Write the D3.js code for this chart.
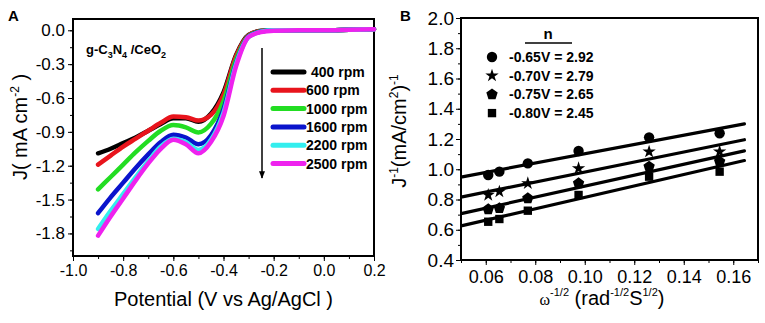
<!DOCTYPE html>
<html>
<head>
<meta charset="utf-8">
<script src="https://cdn.jsdelivr.net/npm/d3@7"></script>
<style>
  body { margin: 0; background: #fff; }
  svg { font-family: "Liberation Sans", Arial, sans-serif; }
</style>
</head>
<body>
<svg id="chart" width="765" height="323"></svg>
<script>
// ---- panel A data: LSV curves at different rotation rates
var potential = [-0.9, -0.85, -0.8, -0.75, -0.7, -0.65, -0.6, -0.55, -0.5, -0.45, -0.4, -0.35, -0.3, -0.25, -0.2, -0.1, 0.0, 0.1, 0.2];
var rpmLabels = ["400 rpm", "600 rpm", "1000 rpm", "1600 rpm", "2200 rpm", "2500 rpm"];
var rpmColors = ["#000000", "#e8141c", "#22dd22", "#0a14cc", "#33eeee", "#ee22ee"];
var j400  = [-1.09, -1.05, -1.0, -0.95, -0.89, -0.83, -0.78, -0.78, -0.81, -0.74, -0.55, -0.22, -0.04, -0.005, 0.0, 0.0, 0.0, 0.005, 0.01];
var j600  = [-1.19, -1.11, -1.03, -0.96, -0.89, -0.82, -0.765, -0.77, -0.80, -0.75, -0.57, -0.23, -0.045, -0.006, 0.0, 0.0, 0.0, 0.005, 0.01];
var j1000 = [-1.41, -1.30, -1.19, -1.08, -0.98, -0.89, -0.84, -0.86, -0.905, -0.83, -0.63, -0.26, -0.05, -0.008, 0.0, 0.0, 0.0, 0.005, 0.01];
var j1600 = [-1.62, -1.48, -1.35, -1.22, -1.10, -0.99, -0.925, -0.95, -1.01, -0.93, -0.70, -0.29, -0.055, -0.01, 0.0, 0.0, 0.0, 0.005, 0.01];
var j2200 = [-1.76, -1.60, -1.45, -1.30, -1.16, -1.03, -0.96, -0.99, -1.06, -0.97, -0.73, -0.30, -0.06, -0.012, 0.0, 0.0, 0.0, 0.005, 0.01];
var j2500 = [-1.82, -1.65, -1.49, -1.33, -1.18, -1.05, -0.97, -1.01, -1.09, -0.99, -0.76, -0.32, -0.06, -0.015, -0.004, 0.0, 0.0, 0.005, 0.01];

// ---- panel B data: Koutecky-Levich plot
var omegaInv = [0.061, 0.0655, 0.077, 0.0975, 0.126, 0.1545];
var kLabels = ["-0.65V = 2.92", "-0.70V = 2.79", "-0.75V = 2.65", "-0.80V = 2.45"];
var kInv065 = [0.962, 0.984, 1.039, 1.121, 1.211, 1.238];
var kInv070 = [0.830, 0.852, 0.907, 1.006, 1.116, 1.116];
var kInv075 = [0.735, 0.742, 0.808, 0.907, 1.017, 1.050];
var kInv080 = [0.653, 0.671, 0.726, 0.830, 0.951, 0.984];

var svg = d3.select("#chart");

// ================= Panel A =================
var A = {left: 73, right: 374, top: 19, bottom: 256};
var xA = d3.scaleLinear().domain([-1.0, 0.2]).range([A.left, A.right]);
var yA = d3.scaleLinear().domain([-2.0, 0.1]).range([A.bottom, A.top]);

var gA = svg.append("g");

// minor ticks
gA.append("g")
  .attr("transform", "translate(0," + A.bottom + ")")
  .call(d3.axisBottom(xA).tickValues(d3.range(-1.0, 0.21, 0.1)).tickSize(3).tickFormat(""))
  .call(function(g) { g.select(".domain").remove(); });
gA.append("g")
  .attr("transform", "translate(" + A.left + ",0)")
  .call(d3.axisLeft(yA).tickValues(d3.range(0, -2.0, -0.15)).tickSize(3).tickFormat(""))
  .call(function(g) { g.select(".domain").remove(); });

// major ticks
gA.append("g")
  .attr("transform", "translate(0," + A.bottom + ")")
  .call(d3.axisBottom(xA).tickValues([-1.0, -0.8, -0.6, -0.4, -0.2, 0.0, 0.2]).tickSize(5).tickPadding(4))
  .call(function(g) {
    g.select(".domain").remove();
    g.selectAll("text").style("font-size", "16px").text(function(d) { return d3.format(".1f")(d).replace("−", "-"); });
  });
gA.append("g")
  .attr("transform", "translate(" + A.left + ",0)")
  .call(d3.axisLeft(yA).tickValues([0, -0.3, -0.6, -0.9, -1.2, -1.5, -1.8]).tickSize(5).tickPadding(3))
  .call(function(g) {
    g.select(".domain").remove();
    g.selectAll("text").style("font-size", "17px").text(function(d) { return d3.format(".1f")(d).replace("−", "-"); });
  });

gA.append("rect")
  .attr("x", A.left).attr("y", A.top)
  .attr("width", A.right - A.left).attr("height", A.bottom - A.top)
  .attr("fill", "none").attr("stroke", "#000").attr("stroke-width", 2);

// curves
var curvesA = [j400, j600, j1000, j1600, j2200, j2500];
var lineA = d3.line()
  .x(function(d, i) { return xA(potential[i]); })
  .y(function(d) { return yA(d); })
  .curve(d3.curveMonotoneX);

gA.selectAll(".curve")
  .data(curvesA)
  .enter().append("path")
  .attr("class", "curve")
  .attr("d", lineA)
  .attr("fill", "none")
  .attr("stroke", function(d, i) { return rpmColors[i]; })
  .attr("stroke-width", 4.5)
  .attr("stroke-linecap", "round")
  .attr("stroke-linejoin", "round");

// legend A
var legA = gA.append("g");
rpmLabels.forEach(function(lab, i) {
  var y = 72 + i * 18.3;
  legA.append("line")
    .attr("x1", 273).attr("x2", 304).attr("y1", y).attr("y2", y)
    .attr("stroke", rpmColors[i]).attr("stroke-width", 5).attr("stroke-linecap", "round");
  legA.append("text")
    .attr("x", i === 0 ? 311 : 306).attr("y", y + 5)
    .style("font-size", "14px").style("font-weight", "bold")
    .text(lab);
});

// arrow
svg.append("defs").append("marker")
  .attr("id", "arrowhead")
  .attr("viewBox", "0 0 10 10")
  .attr("refX", 9).attr("refY", 5)
  .attr("markerWidth", 5).attr("markerHeight", 7)
  .attr("orient", "auto")
  .append("path").attr("d", "M0,1 L10,5 L0,9 Z").attr("fill", "#000");
gA.append("line")
  .attr("x1", 262).attr("x2", 262).attr("y1", 48).attr("y2", 178)
  .attr("stroke", "#000").attr("stroke-width", 1.5)
  .attr("marker-end", "url(#arrowhead)");

// sample label
var sample = gA.append("text")
  .attr("x", 86).attr("y", 54)
  .style("font-size", "13px").style("font-weight", "bold");
sample.append("tspan").text("g-C");
sample.append("tspan").attr("dy", 4).style("font-size", "9px").text("3");
sample.append("tspan").attr("dy", -4).text("N");
sample.append("tspan").attr("dy", 4).style("font-size", "9px").text("4");
sample.append("tspan").attr("dy", -4).text(" /CeO");
sample.append("tspan").attr("dy", 4).style("font-size", "9px").text("2");

// axis titles A
gA.append("text")
  .attr("x", (A.left + A.right) / 2).attr("y", 306)
  .attr("text-anchor", "middle")
  .style("font-size", "20px")
  .text("Potential (V vs Ag/AgCl )");

var ytA = gA.append("text")
  .attr("transform", "translate(27,127) rotate(-90)")
  .attr("text-anchor", "middle")
  .style("font-size", "20px");
ytA.append("tspan").text("J( mA cm");
ytA.append("tspan").attr("dy", -8).style("font-size", "12px").text("-2");
ytA.append("tspan").attr("dy", 8).text(" )");

gA.append("text")
  .attr("x", 8).attr("y", 21)
  .style("font-size", "15px").style("font-weight", "bold")
  .text("A");

// ================= Panel B =================
var B = {left: 461, right: 758, top: 18, bottom: 260};
var xB = d3.scaleLinear().domain([0.05, 0.17]).range([B.left, B.right]);
var yB = d3.scaleLinear().domain([0.4, 2.0]).range([B.bottom, B.top]);

var gB = svg.append("g");

gB.append("g")
  .attr("transform", "translate(0," + B.bottom + ")")
  .call(d3.axisBottom(xB).tickValues(d3.range(0.05, 0.1701, 0.01)).tickSize(3).tickFormat(""))
  .call(function(g) { g.select(".domain").remove(); });
gB.append("g")
  .attr("transform", "translate(" + B.left + ",0)")
  .call(d3.axisLeft(yB).tickValues(d3.range(0.4, 2.001, 0.1)).tickSize(3).tickFormat(""))
  .call(function(g) { g.select(".domain").remove(); });

gB.append("g")
  .attr("transform", "translate(0," + B.bottom + ")")
  .call(d3.axisBottom(xB).tickValues([0.06, 0.08, 0.10, 0.12, 0.14, 0.16]).tickSize(5).tickPadding(5)
    .tickFormat(d3.format(".2f")))
  .call(function(g) {
    g.select(".domain").remove();
    g.selectAll("text").style("font-size", "18px");
  });
gB.append("g")
  .attr("transform", "translate(" + B.left + ",0)")
  .call(d3.axisLeft(yB).tickValues([0.4, 0.6, 0.8, 1.0, 1.2, 1.4, 1.6, 1.8, 2.0]).tickSize(5).tickPadding(2)
    .tickFormat(d3.format(".1f")))
  .call(function(g) {
    g.select(".domain").remove();
    g.selectAll("text").style("font-size", "19px");
  });

gB.append("rect")
  .attr("x", B.left).attr("y", B.top)
  .attr("width", B.right - B.left).attr("height", B.bottom - B.top)
  .attr("fill", "none").attr("stroke", "#000").attr("stroke-width", 2);

// custom pentagon symbol
var symbolPentagon = {
  draw: function(context, size) {
    var r = Math.sqrt(size / 2.3776);
    for (var k = 0; k < 5; k++) {
      var a = -Math.PI / 2 + k * 2 * Math.PI / 5;
      var px = r * Math.cos(a), py = r * Math.sin(a);
      if (k === 0) context.moveTo(px, py); else context.lineTo(px, py);
    }
    context.closePath();
  }
};
var kSeries = [kInv065, kInv070, kInv075, kInv080];
var kSymbols = [
  d3.symbol().type(d3.symbolCircle).size(85),
  d3.symbol().type(d3.symbolStar).size(55),
  d3.symbol().type(symbolPentagon).size(85),
  d3.symbol().type(d3.symbolSquare).size(70)
];

// least squares fit lines
kSeries.forEach(function(ys, s) {
  var mx = d3.mean(omegaInv), my = d3.mean(ys);
  var sxy = d3.sum(omegaInv, function(x, i) { return (x - mx) * (ys[i] - my); });
  var sxx = d3.sum(omegaInv, function(x) { return (x - mx) * (x - mx); });
  var slope = sxy / sxx, icpt = my - slope * mx;
  var ends = [0.0505, 0.1645];
  gB.append("line")
    .attr("x1", xB(ends[0])).attr("y1", yB(icpt + slope * ends[0]))
    .attr("x2", xB(ends[1])).attr("y2", yB(icpt + slope * ends[1]))
    .attr("stroke", "#000").attr("stroke-width", 3.2)
    .attr("stroke-linecap", "round");

  gB.selectAll(".pt" + s)
    .data(ys)
    .enter().append("path")
    .attr("class", "pt" + s)
    .attr("transform", function(d, i) { return "translate(" + xB(omegaInv[i]) + "," + yB(d) + ")"; })
    .attr("d", kSymbols[s])
    .attr("fill", "#000");
});

// legend B
gB.append("text")
  .attr("x", 548).attr("y", 39)
  .attr("text-anchor", "middle")
  .style("font-size", "15px").style("font-weight", "bold")
  .text("n");
gB.append("line")
  .attr("x1", 525).attr("x2", 572).attr("y1", 43).attr("y2", 43)
  .attr("stroke", "#000").attr("stroke-width", 1.5);
kLabels.forEach(function(lab, i) {
  var y = 57 + i * 18.7;
  gB.append("path")
    .attr("transform", "translate(492," + y + ")")
    .attr("d", kSymbols[i])
    .attr("fill", "#000");
  gB.append("text")
    .attr("x", 509).attr("y", y + 5)
    .style("font-size", "14px").style("font-weight", "bold")
    .text(lab);
});

// axis titles B
var xtB = gB.append("text")
  .attr("x", 602).attr("y", 305)
  .attr("text-anchor", "middle")
  .style("font-size", "20px");
xtB.append("tspan").style("font-family", "'Liberation Serif', 'Times New Roman', serif").style("font-size", "16px").text("ω");
xtB.append("tspan").attr("dy", -9).style("font-size", "11px").text("-1/2");
xtB.append("tspan").attr("dy", 9).text(" (rad");
xtB.append("tspan").attr("dy", -9).style("font-size", "11px").text("-1/2");
xtB.append("tspan").attr("dy", 9).text("S");
xtB.append("tspan").attr("dy", -9).style("font-size", "11px").text("1/2");
xtB.append("tspan").attr("dy", 9).text(")");

var ytB = gB.append("text")
  .attr("transform", "translate(406,131) rotate(-90)")
  .attr("text-anchor", "middle")
  .style("font-size", "20px");
ytB.append("tspan").text("J");
ytB.append("tspan").attr("dy", -8).style("font-size", "12px").text("-1");
ytB.append("tspan").attr("dy", 8).text("(mA/cm");
ytB.append("tspan").attr("dy", -8).style("font-size", "12px").text("2");
ytB.append("tspan").attr("dy", 8).text(")");
ytB.append("tspan").attr("dy", -8).style("font-size", "12px").text("-1");

gB.append("text")
  .attr("x", 400).attr("y", 21)
  .style("font-size", "15px").style("font-weight", "bold")
  .text("B");
</script>
</body>
</html>
